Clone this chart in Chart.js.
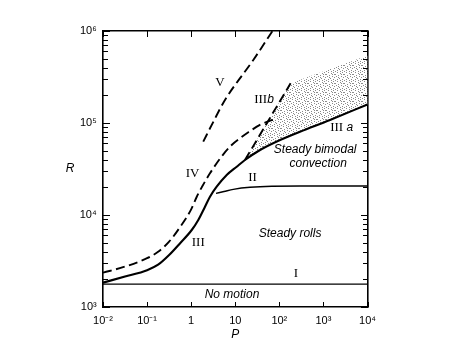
<!DOCTYPE html>
<html><head><meta charset="utf-8">
<script src="https://cdn.jsdelivr.net/npm/chart.js@4/dist/chart.umd.min.js"></script>
<style>html,body{margin:0;padding:0;background:#fff}</style>
</head><body>
<canvas id="c" width="475" height="356"></canvas>
<script>
// ---- data (P = Prandtl number, R = Rayleigh number) ----
const pI = [0.01, 10000];
const rI = [1770, 1770];
const pII = [3.66, 5.56, 9.03, 21.6, 294, 10000];
const rII = [17200, 18000, 19000, 20000, 20700, 20700];
const pIII = [0.01, 0.0316, 0.1, 0.178, 0.316, 0.562, 1.03, 1.45, 2.06, 2.67, 3.79, 6.4, 10.8, 16.6, 36.5, 104, 294, 1410, 10000];
const rIII = [1840, 2140, 2510, 2880, 3670, 4940, 6870, 8830, 12300, 15800, 20300, 27200, 33500, 39600, 50900, 65400, 80400, 108000, 159000];
const pIV = [0.01, 0.0316, 0.1, 0.178, 0.316, 0.562, 1.0, 1.34, 1.88, 2.67, 3.79, 5.36, 8.3, 12.8, 19.8, 39.8, 87];
const rIV = [2360, 2750, 3390, 3980, 5130, 7410, 11500, 15800, 21400, 28400, 36500, 45700, 57700, 68200, 79400, 97500, 112000];
const pV = [1.88, 3.18, 5.85, 25.7, 70];
const rV = [62700, 103000, 178000, 484000, 1000000];
const pIIIb = [16.6, 180];
const rIIIb = [39600, 270000];
const pShadeTop = [180, 10000];
const rShadeTop = [270000, 542000];

const xTickValues = [0.01, 0.1, 1, 10, 100, 1000, 10000];
const xTickLabels = ['10\u207B\u00B2', '10\u207B\u00B9', '1', '10', '10\u00B2', '10\u00B3', '10\u2074'];
const yTickValues = [1000, 10000, 100000, 1000000];
const yTickLabels = ['10\u00B3', '10\u2074', '10\u2075', '10\u2076'];
const yMinorSteps = [2, 3, 4, 5, 6, 7, 8, 9];

// ---- text annotations (positions in data space) ----
const curveLabels = [
  {parts: [['V', 'serif']], p: 4.5, r: 272000},
  {parts: [['III', 'serif'], ['b', 'it']], p: 44.9, r: 178000},
  {parts: [['IV', 'serif']], p: 1.08, r: 27900},
  {parts: [['III', 'serif'], [' a', 'it']], p: 2600, r: 88900},
  {parts: [['II', 'serif']], p: 24.7, r: 25700},
  {parts: [['III', 'serif']], p: 1.45, r: 5000},
  {parts: [['I', 'serif']], p: 239, r: 2300}
];
const regionLabels = [
  {text: 'Steady bimodal', p: 650, r: 50900},
  {text: 'convection', p: 759, r: 36500},
  {text: 'Steady rolls', p: 175, r: 6320},
  {text: 'No motion', p: 8.45, r: 1374}
];

const toPts = (ps, rs) => ps.map((p, i) => ({x: p, y: rs[i]}));
const FONTS = {
  serif: '13px "Liberation Serif", "DejaVu Serif", serif',
  it: 'italic 12px "Liberation Sans", Arial, sans-serif'
};

const canvas = document.getElementById('c');
const III_INDEX = 2;

function stippleFor(ctx) {
  const n = 9;
  const c = document.createElement('canvas');
  c.width = n; c.height = n;
  const g = c.getContext('2d');
  g.fillStyle = '#ffffff'; g.fillRect(0, 0, n, n);
  g.fillStyle = '#8a8a8a';
  [[0,0],[4,0],[7,1],[2,2],[5,3],[8,4],[1,5],[3,4],[6,6],[0,7],[4,7],[2,8],[7,8],[8,2],[5,5],[1,2]]
    .forEach(([a,b]) => g.fillRect(a, b, 1, 1));
  return ctx.createPattern(c, 'repeat');
}

function drawTicks(chart) {
  const {ctx, chartArea: a} = chart;
  const x = chart.scales.x, y = chart.scales.y;
  ctx.save();
  ctx.fillStyle = '#000';
  yTickValues.forEach((d, i) => {
    const marks = [{v: d, L: 7}];
    if (i < yTickValues.length - 1) yMinorSteps.forEach(m => marks.push({v: m * d, L: 5}));
    marks.forEach(t => {
      const py = Math.round(y.getPixelForValue(t.v));
      ctx.fillRect(Math.round(a.left), py, t.L, 1);
      ctx.fillRect(Math.round(a.right) - t.L, py, t.L, 1);
    });
  });
  xTickValues.forEach(v => {
    const px = Math.round(x.getPixelForValue(v));
    ctx.fillRect(px, Math.round(a.bottom) - 5, 1, 5);
    ctx.fillRect(px, Math.round(a.top), 1, 6);
  });
  ctx.restore();
}

const annotPlugin = {
  id: 'annotations',
  beforeDatasetsDraw(chart) {
    // stippled region between IIIb / upper bound and curve IIIa, via the library's scales and points
    const {ctx, chartArea: a} = chart;
    const x = chart.scales.x, y = chart.scales.y;
    const pts = chart.getDatasetMeta(III_INDEX).data;
    let k = pIII.findIndex(p => p >= pIIIb[0]);
    if (k < 0 || !pts.length) return;
    ctx.save();
    ctx.beginPath();
    ctx.rect(a.left, a.top, a.right - a.left, a.bottom - a.top);
    ctx.clip();
    ctx.beginPath();
    ctx.moveTo(pts[k].x, pts[k].y);
    for (let i = k + 1; i < pts.length; i++) {
      const p0 = pts[i - 1], p1 = pts[i];
      if (isFinite(p0.cp2x) && isFinite(p1.cp1x)) ctx.bezierCurveTo(p0.cp2x, p0.cp2y, p1.cp1x, p1.cp1y, p1.x, p1.y);
      else ctx.lineTo(p1.x, p1.y);
    }
    for (let i = pShadeTop.length - 1; i >= 0; i--) ctx.lineTo(x.getPixelForValue(pShadeTop[i]), y.getPixelForValue(rShadeTop[i]));
    ctx.closePath();
    ctx.fillStyle = stippleFor(ctx);
    ctx.fill();
    ctx.restore();
  },
  afterDatasetsDraw(chart) {
    const {ctx, chartArea: a} = chart;
    const x = chart.scales.x, y = chart.scales.y;
    ctx.save();
    ctx.fillStyle = '#000';
    ctx.textBaseline = 'middle';
    ctx.textAlign = 'left';
    curveLabels.forEach(l => {
      const cx = x.getPixelForValue(l.p), cy = y.getPixelForValue(l.r);
      let total = 0;
      const widths = l.parts.map(([t, f]) => { ctx.font = FONTS[f]; const w = ctx.measureText(t).width; total += w; return w; });
      let px = cx - total / 2;
      l.parts.forEach(([t, f], i) => { ctx.font = FONTS[f]; ctx.fillText(t, px, cy); px += widths[i]; });
    });
    ctx.font = FONTS.it;
    ctx.textAlign = 'center';
    regionLabels.forEach(l => ctx.fillText(l.text, x.getPixelForValue(l.p), y.getPixelForValue(l.r)));
    ctx.fillText('R', a.left - 33, y.getPixelForValue(32200));
    ctx.restore();
    drawTicks(chart);
  },
  afterDraw(chart) { drawTicks(chart); }
};

function yTicks(scale) {
  const t = [];
  yTickValues.forEach((d, i) => {
    t.push({value: d, major: true});
    if (i < yTickValues.length - 1) yMinorSteps.forEach(m => t.push({value: m * d, major: false}));
  });
  scale.ticks = t;
}
function xTicks(scale) { scale.ticks = xTickValues.map(v => ({value: v, major: true})); }

const tickFont = {family: '"Liberation Sans", Arial, sans-serif', size: 11};
const border = {display: true, color: '#000', width: 1.6};
const noGrid = {display: false, drawOnChartArea: false, drawTicks: false};

const line = (pts, w, dash) => ({data: pts, showLine: true, borderColor: '#000', borderWidth: w,
  borderDash: dash || [], pointRadius: 0, fill: false, cubicInterpolationMode: 'monotone'});

new Chart(canvas, {
  type: 'scatter',
  data: {
    datasets: [
      line(toPts(pI, rI), 1.3),
      line(toPts(pII, rII), 1.4),
      line(toPts(pIII, rIII), 2.1),
      line(toPts(pIV, rIV), 1.9, [9, 4.5]),
      line(toPts(pV, rV), 1.9, [9, 4.5]),
      Object.assign(line(toPts(pIIIb, rIIIb), 1.9, [9, 4.5]), {cubicInterpolationMode: 'default', tension: 0})
    ]
  },
  options: {
    responsive: false, animation: false, devicePixelRatio: 1,
    layout: {padding: 0},
    plugins: {legend: {display: false}, tooltip: {enabled: false}},
    scales: {
      x: {type: 'logarithmic', position: 'bottom', min: 0.01, max: 10000,
        afterBuildTicks: xTicks, afterFit: s => { s.height = 49; },
        ticks: {autoSkip: false, maxRotation: 0, padding: 7, color: '#000', font: tickFont,
          callback: v => { const i = xTickValues.indexOf(v); return i >= 0 ? xTickLabels[i] : ''; }},
        grid: noGrid, border,
        title: {display: true, text: 'P', color: '#000',
          font: {family: '"Liberation Sans", Arial, sans-serif', size: 12, style: 'italic'},
          padding: {top: 0, bottom: 14.5}}},
      x2: {type: 'logarithmic', position: 'top', min: 0.01, max: 10000,
        afterBuildTicks: xTicks, afterFit: s => { s.height = 31; },
        ticks: {display: false}, grid: noGrid, border},
      y: {type: 'logarithmic', position: 'left', min: 1000, max: 1000000,
        afterBuildTicks: yTicks, afterFit: s => { s.width = 103; },
        ticks: {autoSkip: false, padding: 6.3, color: '#000', font: tickFont,
          callback: v => { const i = yTickValues.indexOf(v); return i >= 0 ? yTickLabels[i] : ''; }},
        grid: noGrid, border},
      y2: {type: 'logarithmic', position: 'right', min: 1000, max: 1000000,
        afterBuildTicks: yTicks, afterFit: s => { s.width = 107.5; },
        ticks: {display: false}, grid: noGrid, border}
    }
  },
  plugins: [annotPlugin]
});
</script>
</body></html>
